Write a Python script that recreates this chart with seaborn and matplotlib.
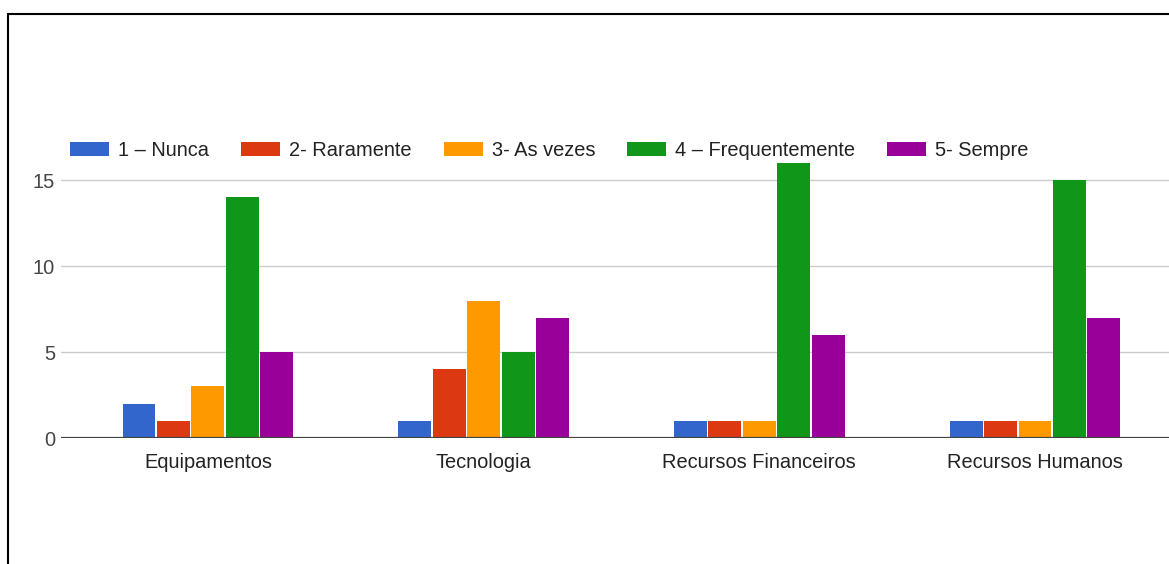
import matplotlib
matplotlib.use("Agg")
import matplotlib.pyplot as plt
from matplotlib.lines import Line2D
import pandas as pd
import seaborn as sns

# Survey answers per resource category
categories = ["Equipamentos", "Tecnologia", "Recursos Financeiros", "Recursos Humanos"]
levels = ["1 – Nunca", "2- Raramente", "3- As vezes", "4 – Frequentemente", "5- Sempre"]
nunca = [2, 1, 1, 1]
raramente = [1, 4, 1, 1]
as_vezes = [3, 8, 1, 1]
frequentemente = [14, 5, 16, 15]
sempre = [5, 7, 6, 7]
y_ticks = [0, 5, 10, 15]

colors = ["#3366CC", "#DC3912", "#FF9900", "#109618", "#990099"]

series = [nunca, raramente, as_vezes, frequentemente, sempre]
rows = []
for level, values in zip(levels, series):
    for cat, v in zip(categories, values):
        rows.append({"categoria": cat, "nivel": level, "valor": v})
df = pd.DataFrame(rows)

sns.set_theme(style="white")
plt.rcParams["font.family"] = ["Liberation Sans", "DejaVu Sans"]

W, H, DPI = 1169, 564, 100
fig = plt.figure(figsize=(W / DPI, H / DPI), dpi=DPI)
fig.patch.set_facecolor("white")

ax_left, ax_bottom, ax_top = 61, 438, 163
ax = fig.add_axes([ax_left / W, (H - ax_bottom) / H, (W - ax_left) / W, (ax_bottom - ax_top) / H])

sns.barplot(
    data=df, x="categoria", y="valor", hue="nivel",
    order=categories, hue_order=levels, palette=colors,
    width=0.625, gap=0.045, saturation=1, linewidth=0, ax=ax,
)

ax.set_xlim(-0.533, 3.486)
ax.set_ylim(0, 16)
ax.set_yticks(y_ticks)
ax.set_yticklabels([str(t) for t in y_ticks])
ax.set_xlabel("")
ax.set_ylabel("")

for s in ax.spines.values():
    s.set_visible(False)
ax.grid(False)
for t in y_ticks[1:]:
    ax.axhline(t, color="#cccccc", lw=1.0, zorder=0)
ax.axhline(0, color="#444444", lw=1.6, zorder=3)

ax.tick_params(axis="x", length=0, pad=10.5, labelsize=14.4, labelcolor="#222222")
ax.tick_params(axis="y", length=0, pad=4.3, labelsize=14.4, labelcolor="#444444")

leg = ax.legend(
    loc="center left", bbox_to_anchor=(70 / W, (H - 150.5) / H),
    bbox_transform=fig.transFigure, ncol=5, frameon=False,
    borderpad=0, borderaxespad=0, fontsize=14.4,
    handlelength=1.95, handleheight=0.7, handletextpad=0.45, columnspacing=1.6,
)
for txt in leg.get_texts():
    txt.set_color("#222222")

# Frame lines on the top and left edges of the figure
top_y = 1 - 13.5 / H
left_x = 8 / W
fig.add_artist(Line2D([left_x, left_x], [0, top_y], transform=fig.transFigure, color="black", lw=1.5))
fig.add_artist(Line2D([left_x, 1], [top_y, top_y], transform=fig.transFigure, color="black", lw=1.5))

fig.savefig("out.png", dpi=DPI, facecolor="white")
